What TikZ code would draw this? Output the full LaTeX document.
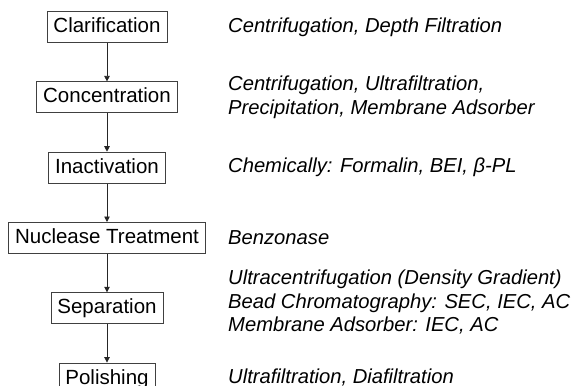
\documentclass[tikz,border=0pt]{standalone}
\usepackage{fontspec}
\setmainfont{Liberation Sans}
\usetikzlibrary{positioning}
\usetikzlibrary{arrows.meta}

\begin{document}
\begin{tikzpicture}[x=1pt, y=-1pt, node distance=38.5pt,
 stage/.style={draw=black!75, line width=.8pt, font=\fontsize{20.5}{23}\selectfont,
  text height=15pt, text depth=4pt, inner ysep=6pt, inner xsep=6.5pt, minimum height=31pt},
 note/.style={anchor=west, inner sep=0, align=left, font=\fontsize{20.2}{23.5}\selectfont\itshape},
 >={Triangle[length=5.5pt, width=5.5pt]}]
\useasboundingbox (0,0) rectangle (574,386);
\coordinate (notes) at (228,0);
% process steps
\node[stage] (clar) at (107,27) {Clarification};
\node[stage, below=of clar] (conc) {Concentration};
\node[stage, below=of conc] (inact) {Inactivation};
\node[stage, below=of inact] (nucl) {Nuclease Treatment};
\node[stage, below=of nucl] (sep) {Separation};
\node[stage, below=of sep] (pol) {Polishing};
\foreach \a/\b in {clar/conc, conc/inact, inact/nucl, nucl/sep, sep/pol} {
 \draw[black!85, line width=.8pt, ->] (\a) -- (\b);
}
% methods
\node[note] (clarnote) at (clar -| notes) {Centrifugation, Depth Filtration};
\node[note] (concnote) at (conc -| notes) {Centrifugation, Ultrafiltration,\\Precipitation, Membrane Adsorber};
\node[note] (inactnote) at (inact -| notes) {Chemically: Formalin, BEI, β-PL};
\node[note] (nuclnote) at (nucl -| notes) {Benzonase};
\node[note, yshift=6pt] (sepnote) at (sep -| notes) {Ultracentrifugation (Density Gradient)\\Bead Chromatography: SEC, IEC, AC\\Membrane Adsorber: IEC, AC};
\node[note, yshift=1pt] (polnote) at (pol -| notes) {Ultrafiltration, Diafiltration};
\end{tikzpicture}
\end{document}
